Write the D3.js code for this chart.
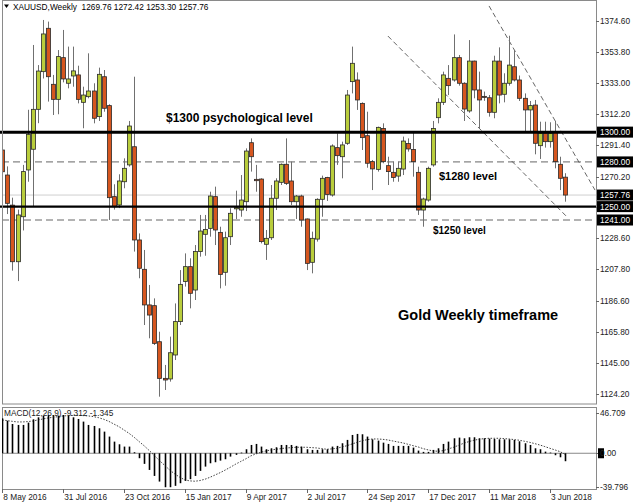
<!DOCTYPE html>
<html><head><meta charset="utf-8">
<script src="https://cdn.jsdelivr.net/npm/d3@7"></script>
<style>body{margin:0;background:#fff;} svg{display:block;font-family:"Liberation Sans",Arial,sans-serif;}</style>
</head><body><svg id="c" width="633" height="504"></svg>
<script>
// ---- data (weekly XAUUSD, 8 May 2016 .. 24 Jun 2018) ----
const openP=[1288.0,1271.2,1251.0,1213.0,1243.2,1274.6,1288.5,1315.3,1340.6,1369.7,1332.1,1322.0,1350.0,1332.8,1337.7,1338.4,1320.0,1323.8,1327.6,1310.4,1337.2,1317.8,1256.7,1251.1,1266.7,1278.0,1290.2,1227.6,1207.9,1184.0,1183.5,1159.3,1134.7,1134.3,1150.4,1172.8,1199.7,1209.7,1194.0,1219.8,1231.4,1235.4,1256.7,1232.7,1205.9,1229.8,1248.5,1247.7,1253.3,1292.9,1268.3,1268.5,1224.7,1229.1,1255.6,1266.3,1278.4,1267.2,1253.3,1257.1,1241.7,1212.6,1228.2,1254.9,1269.6,1257.8,1289.6,1283.5,1292.5,1333.9,1335.0,1319.3,1297.6,1280.2,1275.0,1302.5,1277.5,1273.0,1270.5,1275.2,1292.3,1288.4,1273.0,1247.7,1254.4,1278.0,1309.7,1320.0,1336.1,1335.0,1350.0,1332.8,1314.2,1347.7,1328.3,1324.0,1323.1,1313.3,1347.7,1325.4,1332.8,1343.9,1335.0,1322.7,1314.9,1318.2,1290.9,1299.2,1293.6,1300.3,1278.4,1269.76];
const highP=[1291.0,1277.0,1256.0,1248.0,1278.0,1315.0,1358.5,1345.0,1375.3,1374.2,1338.4,1355.1,1368.6,1357.4,1357.4,1344.6,1330.5,1352.9,1332.8,1343.3,1341.7,1318.7,1265.0,1271.7,1282.4,1307.5,1337.2,1232.0,1220.9,1197.4,1188.4,1166.0,1143.7,1162.7,1185.0,1207.4,1218.6,1215.3,1224.2,1244.4,1244.4,1260.0,1263.4,1236.5,1233.2,1248.9,1260.7,1271.2,1289.1,1295.8,1278.0,1269.0,1234.3,1264.5,1269.0,1279.0,1295.8,1280.2,1257.8,1258.0,1242.0,1233.2,1255.6,1270.8,1270.0,1291.8,1299.2,1293.6,1328.3,1357.4,1340.1,1320.0,1313.7,1281.3,1303.7,1305.9,1283.5,1280.2,1280.2,1297.0,1295.8,1300.3,1276.8,1256.0,1276.8,1307.5,1322.7,1340.6,1345.0,1365.6,1351.8,1333.5,1361.8,1348.0,1340.6,1327.2,1324.9,1351.3,1356.9,1339.5,1364.7,1355.1,1338.0,1326.0,1320.9,1321.6,1307.0,1307.0,1306.6,1307.5,1283.5,1272.42];
const lowP=[1258.0,1245.0,1207.0,1200.0,1234.0,1266.7,1250.0,1306.0,1336.0,1320.5,1311.5,1312.0,1333.4,1329.4,1330.5,1319.3,1302.6,1322.7,1305.9,1307.5,1313.7,1241.0,1248.0,1249.0,1262.3,1276.8,1219.8,1201.9,1170.5,1161.6,1157.1,1122.4,1126.9,1132.5,1147.0,1170.5,1196.3,1181.7,1187.3,1216.4,1217.0,1229.8,1224.2,1195.1,1196.9,1224.2,1241.7,1243.2,1247.0,1273.5,1260.0,1225.3,1214.2,1227.6,1247.7,1264.5,1264.5,1251.1,1241.7,1236.5,1207.4,1205.2,1226.5,1243.2,1253.8,1256.7,1278.0,1269.0,1291.4,1326.0,1314.9,1288.0,1276.1,1261.1,1273.5,1279.1,1264.5,1266.7,1266.7,1271.2,1286.9,1270.1,1244.4,1236.5,1253.3,1276.8,1305.9,1318.2,1324.9,1333.9,1331.2,1307.5,1313.0,1322.7,1302.5,1321.0,1310.4,1309.3,1319.3,1320.0,1331.2,1334.0,1320.9,1300.3,1300.3,1285.1,1282.0,1289.6,1289.6,1275.7,1261.1,1253.30];
const closeP=[1273.4,1252.2,1213.0,1244.4,1273.5,1298.5,1315.3,1341.0,1365.9,1337.2,1322.0,1350.7,1335.7,1335.7,1341.1,1322.0,1324.9,1327.6,1309.3,1338.8,1316.0,1256.0,1249.9,1267.2,1275.7,1304.1,1227.6,1208.6,1184.0,1177.2,1158.2,1134.7,1133.6,1151.9,1172.8,1197.8,1209.7,1191.8,1219.8,1233.6,1234.7,1257.1,1234.3,1204.5,1229.1,1245.5,1249.3,1254.4,1287.3,1283.5,1267.4,1226.5,1228.7,1255.6,1267.2,1278.4,1265.6,1253.3,1257.1,1241.0,1211.9,1228.7,1254.9,1269.0,1258.2,1290.7,1284.2,1291.4,1324.9,1346.2,1321.6,1296.3,1279.1,1275.3,1303.2,1280.2,1273.5,1269.6,1275.7,1294.0,1288.7,1280.2,1247.7,1255.1,1275.7,1302.5,1320.0,1338.4,1331.2,1350.0,1332.8,1315.5,1347.7,1328.3,1321.6,1323.5,1313.3,1347.7,1324.9,1332.8,1345.0,1335.0,1322.7,1314.9,1317.8,1292.5,1299.2,1293.6,1299.2,1280.2,1269.0,1257.76];
const macdHist=[40.8,38.1,34.2,33.1,33.1,35.8,39.7,42.0,43.6,44.7,44.7,44.0,44.7,43.6,42.0,40.1,37.0,33.1,31.9,29.2,25.3,19.5,13.6,10.5,7.8,7.8,1.2,-5.8,-12.4,-19.5,-26.5,-33.1,-39.7,-39.7,-38.1,-35.0,-32.3,-30.3,-26.5,-20.6,-15.6,-11.7,-10.5,-8.6,-7.0,-3.9,-1.9,0.8,4.7,9.7,10.9,7.8,4.7,5.8,7.0,9.7,9.7,9.7,8.6,7.8,4.7,3.9,3.9,4.7,4.7,7.8,8.6,11.7,15.6,21.4,22.6,22.2,19.5,16.3,14.8,12.4,10.9,8.6,8.6,8.6,8.6,6.6,3.1,1.6,1.6,3.9,5.8,10.9,13.6,17.5,18.3,17.5,18.7,18.7,17.5,17.5,17.1,16.7,16.3,16.3,16.3,15.6,14.0,11.7,9.7,5.8,4.7,1.9,0.8,-2.3,-4.7,-9.3];
const macdSignal=[38.9,38.1,37.3,36.6,36.6,37.0,37.7,38.9,40.1,41.2,42.0,42.8,43.6,44.0,44.3,44.3,44.0,43.6,42.8,41.6,39.7,37.3,34.2,31.1,27.2,23.3,18.7,13.6,8.6,3.1,-2.7,-8.6,-14.0,-19.5,-24.1,-28.0,-31.1,-32.3,-32.7,-31.9,-30.3,-28.0,-25.3,-22.6,-19.5,-16.3,-12.8,-9.7,-6.6,-3.1,-0.8,1.2,2.7,3.9,4.7,5.4,6.2,6.6,7.0,7.0,7.0,6.6,6.2,5.4,4.7,5.1,5.8,7.4,8.9,10.9,12.8,14.8,15.9,16.7,16.7,16.3,15.6,14.4,13.2,12.1,10.5,8.9,7.4,5.4,3.9,2.7,2.3,3.1,5.1,7.0,9.3,11.7,13.6,15.2,16.3,17.1,17.5,17.5,17.5,17.1,16.7,15.9,15.2,14.0,12.8,11.3,9.7,7.8,5.8,3.9,1.9,-1.3];
const priceTicks=[1374.60,1353.80,1333.00,1312.20,1291.40,1270.20,1249.40,1228.60,1207.80,1186.60,1165.80,1145.00,1124.20];
const dateTickIdx=[0,12,24,36,48,60,72,84,96,108];
const dateTickLabels=["8 May 2016","31 Jul 2016","23 Oct 2016","15 Jan 2017","9 Apr 2017","2 Jul 2017","24 Sep 2017","17 Dec 2017","11 Mar 2018","3 Jun 2018"];
const macdTicks=[46.709,0,-39.796];
const strongLevels=[1300,1250];
const weakLevels=[1280,1241];
const currentPrice=1257.76;
const trendA=[[96.0,1384.7],[116.9,1261.1]];
const trendB=[[76.05,1364.5],[111.4,1243.0]];
const title="XAUUSD,Weekly  1269.76 1272.42 1253.30 1257.76";
const macdTitle="MACD(12,26,9) -9.312 -1.345";

// ---- layout ----
const svg=d3.select("#c");
const L=2,R=596,T=1,B=404,MT=407,MB=489;
const x=d3.scaleLinear().domain([0,111]).range([2.3,565.1]);
const y=d3.scaleLinear().domain([1124.2,1374.6]).range([394,21]);
const ym=d3.scaleLinear().domain([-39.796,46.709]).range([487.3,413.3]);
const FS=8.3;

svg.append("defs").append("clipPath").attr("id","cp").append("rect").attr("x",L).attr("y",T).attr("width",R-L).attr("height",B-T);
svg.select("defs").append("clipPath").attr("id","cm").append("rect").attr("x",L).attr("y",MT).attr("width",R-L).attr("height",MB-MT);

const g=svg.append("g").attr("clip-path","url(#cp)");
// current price line
g.append("line").attr("x1",L).attr("x2",R).attr("y1",y(currentPrice)).attr("y2",y(currentPrice)).attr("stroke","#cfcfcf").attr("stroke-width",1);
// weak dashed levels
weakLevels.forEach(v=>g.append("line").attr("x1",L).attr("x2",R).attr("y1",y(v)).attr("y2",y(v)).attr("stroke","#666").attr("stroke-width",1).attr("stroke-dasharray","7,4"));
// trend lines
[trendA,trendB].forEach(t=>g.append("line").attr("x1",x(t[0][0])).attr("y1",y(t[0][1])).attr("x2",x(t[1][0])).attr("y2",y(t[1][1])).attr("stroke","#555").attr("stroke-width",0.9).attr("stroke-dasharray","5,3"));

// candles
const idx=d3.range(openP.length);
g.selectAll(".wick").data(idx).join("line").attr("x1",i=>Math.round(x(i))+0.5).attr("x2",i=>Math.round(x(i))+0.5)
 .attr("y1",i=>y(highP[i])).attr("y2",i=>y(lowP[i])).attr("stroke","#707070").attr("stroke-width",1);
g.selectAll(".body").data(idx).join("rect")
 .attr("x",i=>Math.round(x(i))-1.5).attr("width",4)
 .attr("y",i=>y(Math.max(openP[i],closeP[i])))
 .attr("height",i=>Math.max(1,Math.abs(y(openP[i])-y(closeP[i]))))
 .attr("fill",i=>closeP[i]>=openP[i]?"#b9cd3c":"#d6561f")
 .attr("stroke","#2a2a2a").attr("stroke-width",0.8);

// strong levels
strongLevels.forEach((v,k)=>g.append("line").attr("x1",L).attr("x2",R).attr("y1",y(v)).attr("y2",y(v)).attr("stroke","#000").attr("stroke-width",k===0?3:2.2));

// annotations
const ann=[["$1300 psychological level",y(1300)-10.5,166,12],["$1280 level",y(1280)+18.5,439,11],["$1250 level",y(1241)+14,433,10],["Gold Weekly timeframe",320,398,14.5]];
ann.forEach(a=>svg.append("text").attr("x",a[2]).attr("y",a[1]).attr("font-size",a[3]).attr("font-weight","bold").attr("fill","#000").text(a[0]));

// frames
svg.append("rect").attr("x",L+0.5).attr("y",T-0.5).attr("width",R-L).attr("height",B-T+0.5).attr("fill","none").attr("stroke","#8a8a8a").attr("stroke-width",1);
svg.append("rect").attr("x",L+0.5).attr("y",MT+0.5).attr("width",R-L).attr("height",MB-MT).attr("fill","none").attr("stroke","#8a8a8a").attr("stroke-width",1);

// price axis
const pa=svg.append("g");
priceTicks.forEach(v=>{
  pa.append("line").attr("x1",R).attr("x2",R+3).attr("y1",Math.round(y(v))+0.5).attr("y2",Math.round(y(v))+0.5).attr("stroke","#666");
  pa.append("text").attr("x",R+4).attr("y",y(v)+3).attr("font-size",FS).attr("fill","#222").text(d3.format(".2f")(v));
});
// boxed level labels
[1300,1280,currentPrice,1250,1241].forEach(v=>{
  pa.append("rect").attr("x",R+1).attr("y",y(v)-5.5).attr("width",36).attr("height",11).attr("fill","#000");
  pa.append("text").attr("x",R+4).attr("y",y(v)+3).attr("font-size",FS).attr("fill","#fff").text(d3.format(".2f")(v));
});
// extend thick line 1300 into label area
svg.append("line").attr("x1",0).attr("x2",L).attr("y1",y(1300)).attr("y2",y(1300)).attr("stroke","#000").attr("stroke-width",3);
svg.append("line").attr("x1",0).attr("x2",L).attr("y1",y(1250)).attr("y2",y(1250)).attr("stroke","#000").attr("stroke-width",2.2);

// title
svg.append("path").attr("d","M4,4.5 L9,4.5 L6.5,8 Z").attr("fill","#000");
svg.append("text").attr("x",13).attr("y",10).attr("font-size",FS).attr("fill","#000").style("white-space","pre").text(title);

// MACD panel
const mg=svg.append("g").attr("clip-path","url(#cm)");
mg.append("line").attr("x1",L).attr("x2",R).attr("y1",ym(0)).attr("y2",ym(0)).attr("stroke","#888").attr("stroke-width",1);
mg.selectAll(".h").data(idx).join("rect").attr("x",i=>Math.round(x(i))-0.3).attr("width",1.6)
 .attr("y",i=>Math.min(ym(0),ym(macdHist[i]))).attr("height",i=>Math.abs(ym(macdHist[i])-ym(0))).attr("fill","#000");
mg.append("path").datum(idx).attr("d",d3.line().x(i=>x(i)).y(i=>ym(macdSignal[i]))).attr("fill","none").attr("stroke","#111").attr("stroke-width",0.8).attr("stroke-dasharray","1.5,1.5");
svg.append("text").attr("x",4).attr("y",416).attr("font-size",FS).attr("fill","#222").text(macdTitle);
macdTicks.forEach(v=>{
  svg.append("line").attr("x1",R).attr("x2",R+3).attr("y1",Math.round(ym(v))+0.5).attr("y2",Math.round(ym(v))+0.5).attr("stroke","#666");
  if(v===0) svg.append("rect").attr("x",R+2).attr("y",ym(0)-5).attr("width",6).attr("height",10).attr("fill","#000");
  svg.append("text").attr("x",R+4).attr("y",ym(v)+3).attr("font-size",FS).attr("fill","#222").text(v===0?"0.00":String(v));
});

// date axis
dateTickIdx.forEach((d,k)=>{
  svg.append("line").attr("x1",Math.round(x(d))+0.5).attr("x2",Math.round(x(d))+0.5).attr("y1",MB).attr("y2",MB+4).attr("stroke","#666");
  svg.append("text").attr("x",x(d)+1).attr("y",500).attr("font-size",FS).attr("fill","#222").text(dateTickLabels[k]);
});
</script></body></html>
